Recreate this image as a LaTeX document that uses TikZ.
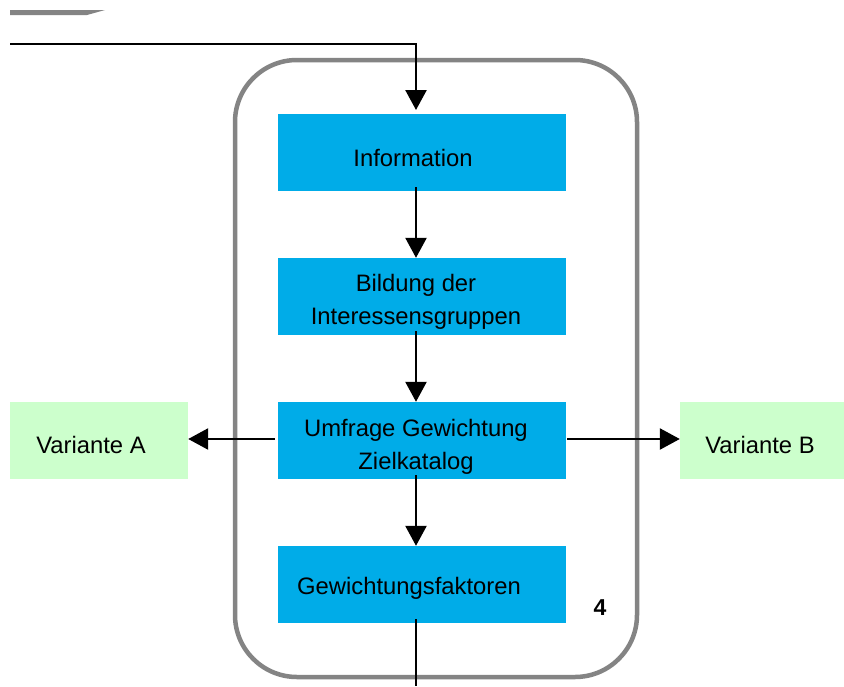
\documentclass[tikz,border=0pt]{standalone}
\usepackage{fontspec}
\setmainfont{Liberation Sans}
\usetikzlibrary{arrows.meta,calc}
\definecolor{boxblue}{RGB}{0,172,232}
\definecolor{boxgreen}{RGB}{204,255,204}
\definecolor{framegray}{RGB}{132,132,132}
\tikzset{
  bluebox/.style={fill=boxblue, draw=none, minimum width=288pt, minimum height=77pt, inner sep=0pt},
  greenbox/.style={fill=boxgreen, draw=none, minimum width=178pt, minimum height=77pt, inner sep=0pt},
  txt/.style={font=\fontsize{23.8}{33}\selectfont, align=center, inner sep=0pt},
  frame/.style={draw=framegray, line width=4.5pt, rounded corners=62pt, minimum width=402pt, minimum height=617pt, inner sep=0pt},
  conn/.style={draw=black, line width=2.5pt},
  arr/.style={conn, -{Triangle[width=21pt,length=20pt]}},
}
\begin{document}
\begin{tikzpicture}[x=1pt,y=-1pt]
\useasboundingbox (0,0) rectangle (844,686);
\fill[white] (0,0) rectangle (844,686);
% top cut-off stub
\fill[framegray] (10,10) -- (105,10) -- (87,15) -- (10,15) -- cycle;
% frame
\node[frame] (frm) at (436,368.5) {};
% boxes
\node[bluebox] (info) at (422,152.5) {};
\node[bluebox] (bild) at (422,296.5) {};
\node[bluebox] (umf) at (422,440.5) {};
\node[bluebox] (gew) at (422,584.5) {};
\node[greenbox] (va) at (99,440.5) {};
\node[greenbox, minimum width=164pt] (vb) at (762,440.5) {};
% texts
\node[txt] (infot) at ($(info.center)+(-9,5)$) {Information};
\node[txt] (bildt) at ($(bild.center)+(-6,5)$) {Bildung der\\Interessensgruppen};
\node[txt] (umft) at ($(umf.center)+(-6,6)$) {Umfrage Gewichtung\\Zielkatalog};
\node[txt] (gewt) at ($(gew.center)+(-13,4)$) {Gewichtungsfaktoren};
\node[txt] (vat) at ($(va.center)+(-8,4)$) {Variante A};
\node[txt] (vbt) at ($(vb.center)+(-2,4)$) {Variante B};
\node[txt, font=\fontsize{23}{28}\selectfont\bfseries] (four) at (600,608) {4};
% connectors
\coordinate (inl) at (10,44);
\coordinate (outb) at (416,686);
\draw[arr] (inl) -- (416,44) -- (416,110);
\draw[arr] ($(info.south)+(-6,-4)$) -- ($(bild.north)+(-6,0)$);
\draw[arr] ($(bild.south)+(-6,-4)$) -- ($(umf.north)+(-6,0)$);
\draw[arr] ($(umf.south)+(-6,-4)$) -- ($(gew.north)+(-6,0)$);
\draw[conn] ($(gew.south)+(-6,-4)$) -- (outb);
\draw[arr] ($(umf.west)+(-3,-1.5)$) -- ($(va.east)+(0,-1.5)$);
\draw[arr] ($(umf.east)+(1,-1.5)$) -- ($(vb.west)+(0,-1.5)$);
\end{tikzpicture}
\end{document}
